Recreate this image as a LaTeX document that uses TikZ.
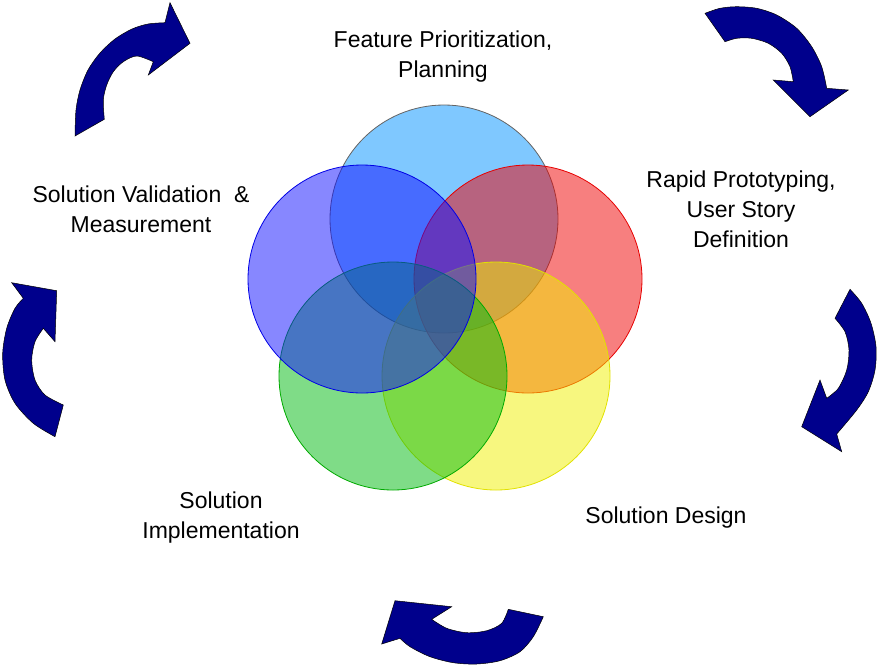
\documentclass[tikz,border=0pt]{standalone}
\usepackage{fontspec}
\setmainfont{Liberation Sans}
\definecolor{cTop}{RGB}{0,145,255}
\definecolor{cTopB}{RGB}{100,100,100}
\definecolor{cRed}{RGB}{240,0,0}
\definecolor{cRedB}{RGB}{230,0,0}
\definecolor{cYel}{RGB}{240,240,0}
\definecolor{cYelB}{RGB}{225,225,0}
\definecolor{cGrn}{RGB}{0,186,16}
\definecolor{cGrnB}{RGB}{0,170,0}
\definecolor{cBlu}{RGB}{16,16,255}
\definecolor{cBluB}{RGB}{0,0,230}
\definecolor{navy}{RGB}{0,0,140}
\tikzset{
  venn/.style={circle, minimum size=228pt, inner sep=0pt, fill opacity=0.5, line width=0.8pt},
  cyclearrow/.style={fill=navy, draw=black, line width=0.5pt, line join=miter},
  lbl/.style={anchor=base, inner sep=0pt, font=\fontsize{23}{30}\selectfont},
}
\begin{document}
\begin{tikzpicture}[x=1pt,y=-1pt]
\useasboundingbox (0,0) rectangle (882,665);
% circles (order matters for overlaps)
\node[venn, fill=cTop, draw=cTopB] (ctop) at (444,219) {};
\node[venn, fill=cRed, draw=cRedB] (cred) at (528,279) {};
\node[venn, fill=cYel, draw=cYelB] (cyel) at (496,376) {};
\node[venn, fill=cGrn, draw=cGrnB] (cgrn) at (393,376) {};
\node[venn, fill=cBlu, draw=cBluB] (cblu) at (362,279) {};
% labels
\node[lbl] (tplan) at (443,47) {\begin{tabular}[t]{@{}c@{}}Feature Prioritization,\\Planning\end{tabular}};
\node[lbl] (trapid) at (741,187) {\begin{tabular}[t]{@{}c@{}}Rapid Prototyping,\\User Story\\Definition\end{tabular}};
\node[lbl] (tvalid) at (141,202) {\begin{tabular}[t]{@{}c@{}}Solution Validation\ \ \&\\Measurement\end{tabular}};
\node[lbl] (timpl) at (221,508) {\begin{tabular}[t]{@{}c@{}}Solution\\Implementation\end{tabular}};
\node[lbl] (tdesign) at (666,523) {Solution Design};
% curved arrows
\path[cyclearrow] plot[smooth] coordinates {(75,136) (76,110) (80,90) (88,70) (100,53) (115,39) (132,29) (148,24) (165,22.7)}
  -- (170,2.7) -- (190,43.3) -- (148.3,75) -- (153.3,61.7)
  -- plot[smooth] coordinates {(153.3,61.7) (136.7,56) (123.3,61.7) (113.3,71.7) (106.7,85) (103.3,100) (104.3,119.3)} -- cycle;
\path[cyclearrow] plot[smooth] coordinates {(705,13.3) (720,8.3) (736.7,6.7) (756.7,8.3) (776.7,15) (796.7,28.3) (811.7,46.7) (821.7,66.7) (826.7,88.3)}
  -- (848.3,90) -- (810,116.7) -- (773.3,80) -- (793.3,81.7)
  -- plot[smooth] coordinates {(793.3,81.7) (790,66.7) (781.7,53.3) (768.3,43.3) (751.7,38.3) (736.7,38.3) (725,41.7)} -- cycle;
\path[cyclearrow] plot[smooth] coordinates {(850,289.3) (861.7,303.3) (871,323.3) (876,346.7) (875,370) (868.3,391.7) (856.7,410) (836.7,434)}
  -- (841.7,451.7) -- (801.7,426.7) -- (820,380) -- (826.7,398.3)
  -- plot[smooth] coordinates {(826.7,398.3) (838.3,388.3) (846.7,370) (849,350) (845,331.7) (835,318.3)} -- cycle;
\path[cyclearrow] plot[smooth] coordinates {(543.3,616.7) (533.3,636.7) (520,651.7) (500,660.7) (476.7,664) (453.3,662.7) (430,656.7) (410,646.7) (400,638.3)}
  -- (381.7,644) -- (395,600.7) -- (451.7,606.7) -- (431.7,619.3)
  -- plot[smooth] coordinates {(431.7,619.3) (446.7,628.3) (466.7,632.7) (486.7,630.7) (501.7,623.3) (508.3,609.3)} -- cycle;
\path[cyclearrow] plot[smooth] coordinates {(55,436.7) (33.3,423.3) (15,403.3) (5,380) (2.7,353.3) (6.7,328.3) (15,308.3) (23.3,298.3)}
  -- (11.7,282.7) -- (56.7,290.7) -- (55,341.7) -- (43.3,328.3)
  -- plot[smooth] coordinates {(43.3,328.3) (35,341.7) (31.7,360) (35,380) (45,395) (63.3,405)} -- cycle;
\end{tikzpicture}
\end{document}
